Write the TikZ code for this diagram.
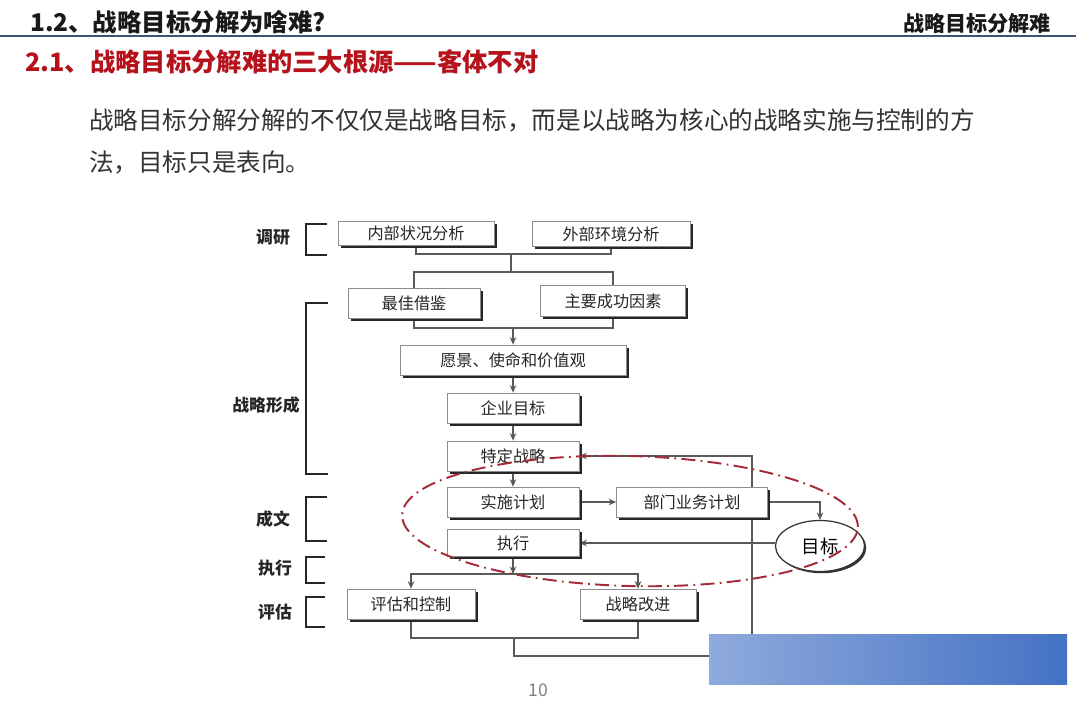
\documentclass[tikz,border=0pt]{standalone}
\usepackage{fontspec}
\setmainfont{Noto Sans CJK SC}
\usetikzlibrary{arrows.meta,positioning,calc,shapes.geometric,shadows,backgrounds}
\definecolor{rulecol}{HTML}{3A5670}
\definecolor{brick}{HTML}{B5121B}
\definecolor{ringred}{HTML}{A32A36}
\definecolor{ink}{HTML}{333333}
\definecolor{skyL}{HTML}{8FAADC}
\definecolor{skyR}{HTML}{4472C4}
\tikzset{stage/.style={draw=black!45,fill=white,inner sep=0pt,font=\fontsize{9.2}{11}\selectfont,text=black!85,drop shadow={shadow xshift=1.5pt,shadow yshift=-1.5pt,fill=black!85,opacity=1}}, goal/.style={ellipse,draw=black!80,line width=0.7pt,fill=white,inner sep=0pt,minimum width=1.78cm,minimum height=1.02cm,font=\fontsize{10.5}{12}\selectfont,drop shadow={shadow xshift=1pt,shadow yshift=-1pt,fill=black!80,opacity=1}}, link/.style={draw=black!65,line width=0.6pt}, flow/.style={link,-{Stealth[length=1.5mm,width=1.3mm]}}, phase/.style={font=\bfseries\fontsize{9.6}{11}\selectfont,text=black!85}, brk/.style={draw=black!85,line width=1.5pt}, focus/.style={ellipse,draw=ringred,line width=1.1pt,dash pattern=on 8pt off 3pt on 1pt off 3pt,minimum width=9.12cm,minimum height=2.6cm}}

\begin{document}
\begin{tikzpicture}[x=0.02cm,y=-0.02cm]
\useasboundingbox (0,0) rectangle (1080,707);
% page heading
\node[anchor=west,font=\bfseries\fontsize{13.9}{16}\selectfont,text=black!90] (ttl) at (24,22) {1.2、战略目标分解为啥难?};
\node[anchor=east,font=\bfseries\fontsize{12}{14}\selectfont,text=black!90] (tag) at (1057,24) {战略目标分解难};
\draw[rulecol,line width=1.1pt] (0,36) -- (1076,36);
\node[anchor=west,font=\bfseries\fontsize{14.4}{16}\selectfont,text=brick] (sub) at (19,62) {2.1、战略目标分解难的三大根源——客体不对};
\node[anchor=west,font=\fontsize{14}{16}\selectfont,text=ink] (p1) at (83,120) {战略目标分解分解的不仅仅是战略目标，而是以战略为核心的战略实施与控制的方};
\node[anchor=west,font=\fontsize{14}{16}\selectfont,text=ink] (p2) at (83,162) {法，目标只是表向。};

% boxes
\node[stage,minimum width=3.12cm,minimum height=0.48cm] (nb) at (416,233) {内部状况分析};
\node[stage,minimum width=3.16cm,minimum height=0.5cm] (wb) at (611,234) {外部环境分析};
\node[stage,minimum width=2.64cm,minimum height=0.6cm] (zj) at (414,303) {最佳借鉴};
\node[stage,minimum width=2.9cm,minimum height=0.62cm] (cg) at (613,301) {主要成功因素};
\node[stage,minimum width=4.52cm,minimum height=0.6cm] (yj) at (513,360) {愿景、使命和价值观};
\node[stage,minimum width=2.64cm,minimum height=0.6cm] (qy) at (513,408) {企业目标};
\node[stage,minimum width=2.64cm,minimum height=0.6cm] (td) at (513,456) {特定战略};
\node[stage,minimum width=2.64cm,minimum height=0.6cm] (ss) at (513,502) {实施计划};
\node[stage,minimum width=3.02cm,minimum height=0.6cm] (bm) at (692,502) {部门业务计划};
\node[stage,minimum width=2.64cm,minimum height=0.54cm] (zx) at (513,543) {执行};
\node[stage,minimum width=2.56cm,minimum height=0.6cm] (pg) at (411,604) {评估和控制};
\node[stage,minimum width=2.32cm,minimum height=0.6cm] (gj) at (638,604) {战略改进};
\node[goal] (mb) at (820,546) {目标};

% junctions
\coordinate (j1) at (511,254);
\coordinate (j2) at (511,272);
\coordinate (j3) at (513,328);
\coordinate (j4) at (513,574);
\coordinate (j5) at (514,638);
\coordinate (j6) at (514,656);
\coordinate (j7) at (752,456);

\begin{pgfonlayer}{background}
\fill[white] (0,0) rectangle (1080,707);
\draw[link] (nb.south) |- (j1) -| (wb.south);
\draw[link] (j1) -- (j2);
\draw[link] (zj.north) |- (j2) -| (cg.north);
\draw[link] (zj.south) |- (j3) -| (cg.south);
\draw[flow] (j3) -- (yj.north);
\draw[flow] (yj) -- (qy);
\draw[flow] (qy) -- (td);
\draw[flow] (td) -- (ss);
\draw[flow] (ss) -- (bm);
\draw[flow] (bm.east) -| (mb.north);
\draw[flow] (mb.west |- zx.east) -- (zx.east);
\draw[flow] (zx.south) -- (j4);
\draw[flow] (j4) -| (pg.north);
\draw[flow] (j4) -| (gj.north);
\draw[link] (pg.south) |- (j5) -| (gj.south);
\draw[flow] (j5) -- (j6) -| (j7) -- (td.east);
\end{pgfonlayer}

% phases
\node[phase] (l1) at (273,237) {调研};
\node[phase] (l2) at (266,405) {战略形成};
\node[phase] (l3) at (273,519) {成文};
\node[phase] (l4) at (275,568) {执行};
\node[phase] (l5) at (275,612) {评估};
\foreach \ya/\yb/\tip in {224/255/327,303/474/328,497/541/327,557/583/325,597/627/325}
  \draw[brk] (\tip,\ya) -| (306,\yb) -- (\tip,\yb);

% highlight
\node[focus,rotate=-1.5] (ring) at (630,521) {};

% footer
\fill[left color=skyL,right color=skyR] (709,634) rectangle (1067,684);
\node[font=\fontsize{10}{12}\selectfont,text=black!50] (pn) at (538,690) {10};
\end{tikzpicture}
\end{document}
